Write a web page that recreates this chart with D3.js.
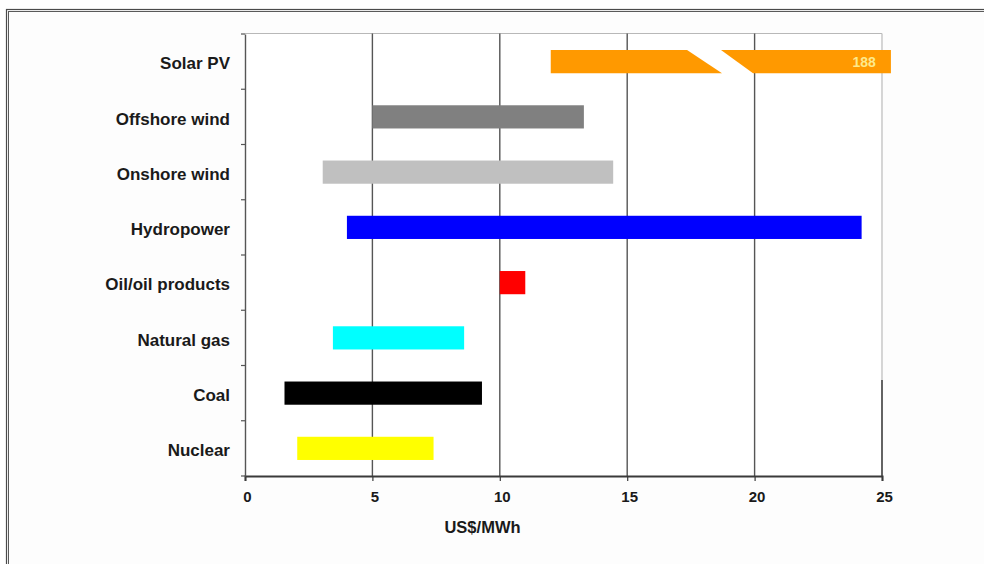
<!DOCTYPE html>
<html>
<head>
<meta charset="utf-8">
<script src="https://cdn.jsdelivr.net/npm/d3@7"></script>
<style>
  html, body { margin: 0; padding: 0; background: #ffffff; }
  svg { display: block; }
  text { font-family: "Liberation Sans", Arial, Helvetica, sans-serif; }
</style>
</head>
<body>
<svg id="chart" width="984" height="564"></svg>
<script>
// Levelised generation cost ranges, US$/MWh
const categories = ["Solar PV", "Offshore wind", "Onshore wind", "Hydropower",
                    "Oil/oil products", "Natural gas", "Coal", "Nuclear"];
const lowValues  = [12, 5, 3.05, 4, 10, 3.45, 1.55, 2.05];
const highValues = [188, 13.3, 14.45, 24.2, 11, 8.6, 9.3, 7.4];
const barColors  = ["#FF9900", "#808080", "#C0C0C0", "#0000FF",
                    "#FF0000", "#00FFFF", "#000000", "#FFFF00"];
const xTicks = [0, 5, 10, 15, 20, 25];
const axisTitle = "US$/MWh";

// Off-scale bar (Solar PV) is drawn truncated with a slanted break
const truncatedEnd = 25.35;
const breakLeft  = [17.35, 18.72];   // right edge of first piece: top, bottom
const breakRight = [18.68, 19.94];   // left edge of second piece: top, bottom

const svg = d3.select("#chart");
const W = 984, H = 564;

// outer double frame
svg.append("rect").attr("x", 6.5).attr("y", 9.5).attr("width", W + 10).attr("height", H + 10)
  .attr("fill", "#fdfdfd").attr("stroke", "#4a4a4a").attr("stroke-width", 1.2);
svg.append("rect").attr("x", 8.5).attr("y", 11.5).attr("width", W + 10).attr("height", H + 10)
  .attr("fill", "none").attr("stroke", "#5a5a5a").attr("stroke-width", 1);

const x = d3.scaleLinear().domain([0, 25]).range([245, 882]);
const y = d3.scaleBand().domain(categories).range([34, 476]).padding(0);
const barH = y.bandwidth() * 0.42;

// plot background
svg.append("rect").attr("x", x(0)).attr("y", y.range()[0])
  .attr("width", x(25) - x(0)).attr("height", y.range()[1] - y.range()[0])
  .attr("fill", "#ffffff");

// top border and right border of plot area
svg.append("line").attr("x1", x(0)).attr("x2", x(25)).attr("y1", 33.5).attr("y2", 33.5)
  .attr("stroke", "#b8b8b8").attr("stroke-width", 1.2);
svg.append("line").attr("x1", x(25)).attr("x2", x(25)).attr("y1", 33.5).attr("y2", 476)
  .attr("stroke", "#c4c4c4").attr("stroke-width", 1.4);
svg.append("line").attr("x1", x(25)).attr("x2", x(25)).attr("y1", 380).attr("y2", 476)
  .attr("stroke", "#333333").attr("stroke-width", 1.4);

// vertical gridlines
svg.append("g").selectAll("line").data(xTicks.filter(t => t > 0 && t < 25)).join("line")
  .attr("x1", d => x(d)).attr("x2", d => x(d))
  .attr("y1", 33.5).attr("y2", 476)
  .attr("stroke", "#555555").attr("stroke-width", 1.4);

// bars
const rows = categories.map((c, i) => ({ cat: c, lo: lowValues[i], hi: highValues[i], color: barColors[i] }));
const normal = rows.filter(d => d.hi <= 25);
svg.append("g").selectAll("rect").data(normal).join("rect")
  .attr("x", d => x(d.lo))
  .attr("y", d => y(d.cat) + (y.bandwidth() - barH) / 2)
  .attr("width", d => x(d.hi) - x(d.lo))
  .attr("height", barH)
  .attr("fill", d => d.color);

// truncated bar with break
rows.filter(d => d.hi > 25).forEach(d => {
  const top = y(d.cat) + (y.bandwidth() - barH) / 2;
  const bot = top + barH;
  const g = svg.append("g");
  g.append("polygon")
    .attr("points", [[x(d.lo), top], [x(breakLeft[0]), top], [x(breakLeft[1]), bot], [x(d.lo), bot]].join(" "))
    .attr("fill", d.color);
  g.append("polygon")
    .attr("points", [[x(breakRight[0]), top], [x(truncatedEnd), top], [x(truncatedEnd), bot], [x(breakRight[1]), bot]].join(" "))
    .attr("fill", d.color);
  g.append("text")
    .attr("x", x(24.3)).attr("y", (top + bot) / 2 + 0.5)
    .attr("text-anchor", "middle").attr("dominant-baseline", "central")
    .attr("font-size", 14).attr("font-weight", "bold")
    .attr("fill", "#fde98c")
    .text(d.hi);
});

// x axis
const xAxis = d3.axisBottom(x).tickValues(xTicks).tickSize(5).tickPadding(10).tickFormat(d3.format("d"));
const gx = svg.append("g").attr("transform", `translate(0,${y.range()[1]})`).call(xAxis);
gx.select(".domain").attr("stroke", "#3a3a3a").attr("stroke-width", 2);
gx.selectAll(".tick line").attr("stroke", "#3a3a3a").attr("stroke-width", 1.2);
gx.selectAll(".tick text").attr("font-size", 15).attr("font-weight", "bold")
  .attr("fill", "#1a1a1a").attr("font-family", "Liberation Sans, Arial, sans-serif")
  .attr("dx", 2);

// y axis: ticks between categories
const yAxis = d3.axisLeft(y).tickSize(0).tickPadding(15);
const gy = svg.append("g").attr("transform", `translate(${x(0)},0)`).call(yAxis);
gy.select(".domain").attr("stroke", "#555555").attr("stroke-width", 1.4);
gy.selectAll(".tick text").attr("font-size", 17).attr("font-weight", "bold")
  .attr("fill", "#1a1a1a").attr("font-family", "Liberation Sans, Arial, sans-serif")
  .attr("dy", "0.45em");
svg.append("g").selectAll("line").data(d3.range(categories.length + 1)).join("line")
  .attr("x1", x(0) - 4).attr("x2", x(0))
  .attr("y1", i => y.range()[0] + i * y.step()).attr("y2", i => y.range()[0] + i * y.step())
  .attr("stroke", "#555555").attr("stroke-width", 1.2);

// axis title
svg.append("text")
  .attr("x", (x(0) + x(25)) / 2 - 81).attr("y", 527)
  .attr("text-anchor", "middle").attr("dominant-baseline", "central")
  .attr("font-size", 16.5).attr("font-weight", "bold").attr("fill", "#1a1a1a")
  .text(axisTitle);
</script>
</body>
</html>
